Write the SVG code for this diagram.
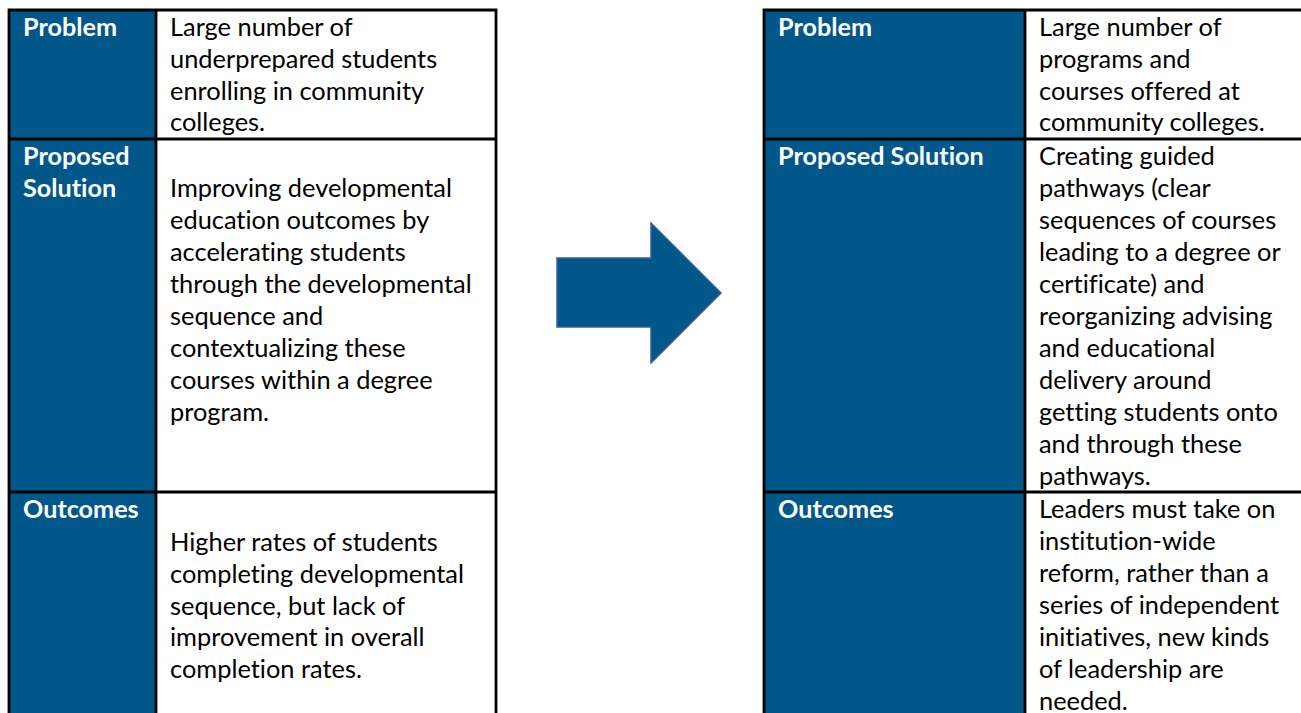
<svg xmlns="http://www.w3.org/2000/svg" width="1301" height="713" viewBox="0 0 1301 713">
<style>
.hd{fill:#01568a}
.ln{stroke:#000;stroke-width:2.8;fill:none}
.h{font-family:Lato,"Open Sans",sans-serif;font-weight:bold;font-size:25.2px;fill:#fff;font-variant-ligatures:none}
.t{font-family:Lato,"Open Sans",sans-serif;font-size:25.4px;fill:#000;font-variant-ligatures:none}
</style>
<rect width="1301" height="713" fill="#fff"/>
<g id="left-table">
<rect class="hd" x="9" y="10" width="147" height="703"/>
<path class="ln" d="M9 713V10H496V713M156 10V713M9 139H496M9 492H496"/>
<g id="l-problem">
<text class="h" x="23" y="36">Problem</text>
<text class="t" x="170" y="36">Large number of</text>
<text class="t" x="170" y="68">underprepared students</text>
<text class="t" x="170" y="100">enrolling in community</text>
<text class="t" x="170" y="131">colleges.</text>
</g>
<g id="l-solution">
<text class="h" x="23" y="165">Proposed</text>
<text class="h" x="23" y="197">Solution</text>
<text class="t" x="170" y="197">Improving developmental</text>
<text class="t" x="170" y="229">education outcomes by</text>
<text class="t" x="170" y="261">accelerating students</text>
<text class="t" x="170" y="293">through the developmental</text>
<text class="t" x="170" y="325">sequence and</text>
<text class="t" x="170" y="357">contextualizing these</text>
<text class="t" x="170" y="389">courses within a degree</text>
<text class="t" x="170" y="421">program.</text>
</g>
<g id="l-outcomes">
<text class="h" x="23" y="518">Outcomes</text>
<text class="t" x="170" y="551">Higher rates of students</text>
<text class="t" x="170" y="583">completing developmental</text>
<text class="t" x="170" y="615">sequence, but lack of</text>
<text class="t" x="170" y="646">improvement in overall</text>
<text class="t" x="170" y="678">completion rates.</text>
</g>
</g>
<g id="connectors">
<path id="arrow" d="M557 258H651V223L721 293L651 363V327H557Z" fill="#01568a" stroke="#3a5e9c" stroke-width="1.5"/>
</g>
<g id="right-table">
<rect class="hd" x="764" y="10" width="261" height="703"/>
<path class="ln" d="M764 713V10H1303M1025 10V713M764 139H1303M764 492H1303"/>
<g id="r-problem">
<text class="h" x="778" y="36">Problem</text>
<text class="t" x="1039" y="36">Large number of</text>
<text class="t" x="1039" y="68">programs and</text>
<text class="t" x="1039" y="100">courses offered at</text>
<text class="t" x="1039" y="131">community colleges.</text>
</g>
<g id="r-solution">
<text class="h" x="778" y="165">Proposed Solution</text>
<text class="t" x="1039" y="165">Creating guided</text>
<text class="t" x="1039" y="197">pathways (clear</text>
<text class="t" x="1039" y="229">sequences of courses</text>
<text class="t" x="1039" y="261">leading to a degree or</text>
<text class="t" x="1039" y="293">certificate) and</text>
<text class="t" x="1039" y="325">reorganizing advising</text>
<text class="t" x="1039" y="357">and educational</text>
<text class="t" x="1039" y="389">delivery around</text>
<text class="t" x="1039" y="421">getting students onto</text>
<text class="t" x="1039" y="453">and through these</text>
<text class="t" x="1039" y="485">pathways.</text>
</g>
<g id="r-outcomes">
<text class="h" x="778" y="518">Outcomes</text>
<text class="t" x="1039" y="518">Leaders must take on</text>
<text class="t" x="1039" y="550">institution-wide</text>
<text class="t" x="1039" y="582">reform, rather than a</text>
<text class="t" x="1039" y="614">series of independent</text>
<text class="t" x="1039" y="646">initiatives, new kinds</text>
<text class="t" x="1039" y="678">of leadership are</text>
<text class="t" x="1039" y="710">needed.</text>
</g>
</g>
</svg>
